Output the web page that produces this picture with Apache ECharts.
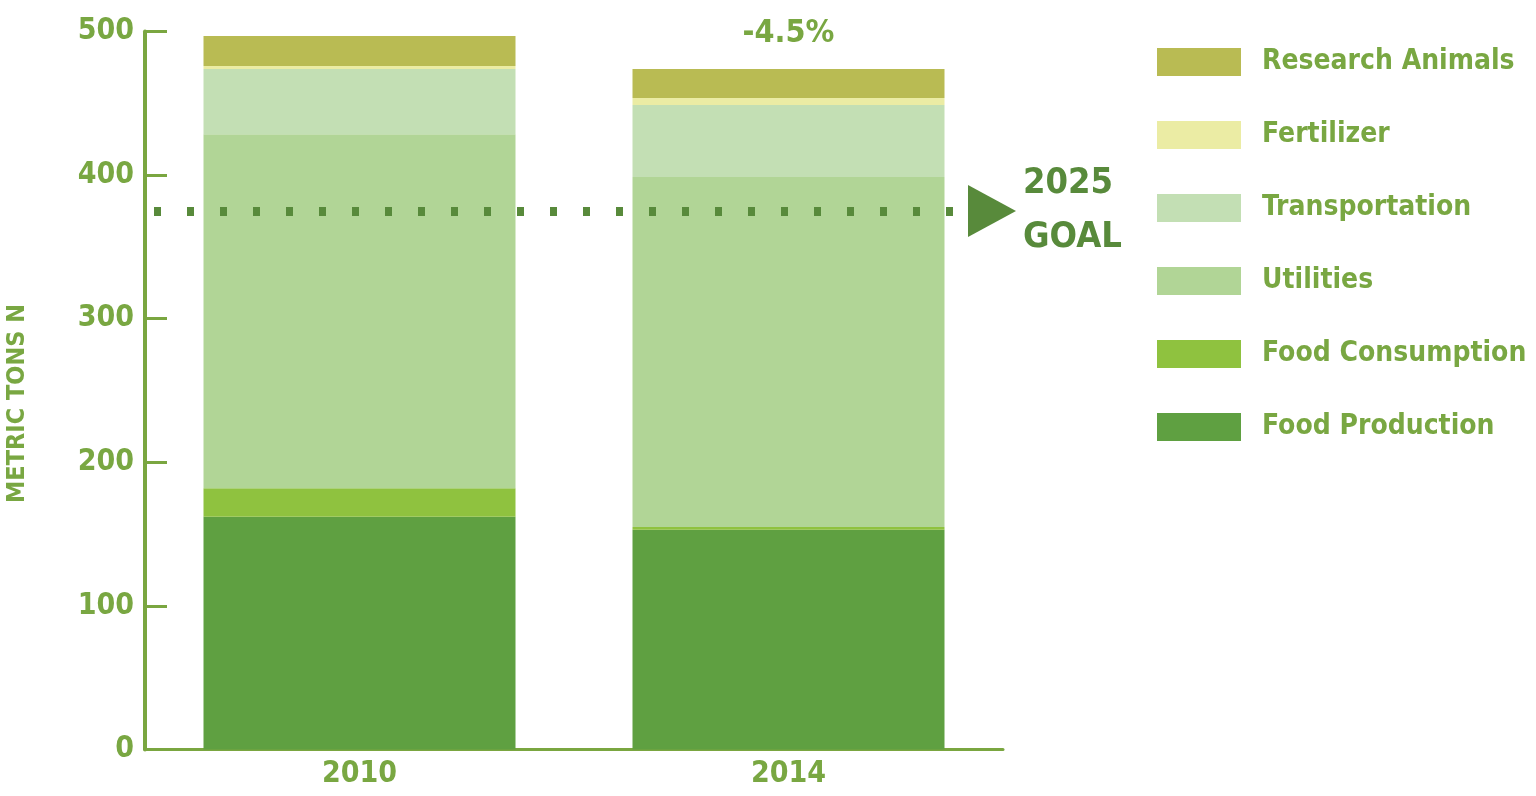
<!DOCTYPE html>
<html>
<head>
<meta charset="utf-8">
<script src="https://cdn.jsdelivr.net/npm/echarts@6/dist/echarts.min.js"></script>
<style>
  html, body { margin: 0; padding: 0; background: #ffffff; }
  #chart { width: 1536px; height: 796px; }
</style>
</head>
<body>
<div id="chart"></div>
<script>
  // values in metric tons N
  var years = ['2010', '2014'];
  var foodProduction = [162, 153];
  var foodConsumption = [20, 2];
  var utilities = [246.5, 243.7];
  var transportation = [45.3, 50.1];
  var fertilizer = [2.1, 4.9];
  var researchAnimals = [20.9, 20.2];
  var changeLabels = ['', '-4.5%'];
  var goalValue = 375;
  var goalText = '2025\nGOAL';

  var FONT = '"Liberation Sans Narrow", "DejaVu Sans Condensed", sans-serif';
  var TEXT_GREEN = '#79a742';
  var AXIS_GREEN = '#7aa640';
  var GOAL_GREEN = '#588a3b';

  var legendOrder = ['Research Animals', 'Fertilizer', 'Transportation', 'Utilities', 'Food Consumption', 'Food Production'];

  function bar(name, values, color) {
    return {
      name: name,
      type: 'bar',
      stack: 'total',
      barWidth: 312,
      itemStyle: { color: color },
      data: values
    };
  }

  var topSeries = bar('Research Animals', researchAnimals.map(function (v, i) {
    if (!changeLabels[i]) {
      return v;
    }
    return {
      value: v,
      label: {
        show: true,
        position: 'top',
        distance: 19,
        formatter: changeLabels[i],
        color: TEXT_GREEN,
        fontFamily: FONT,
        fontWeight: 'bold',
        fontSize: 32
      }
    };
  }), '#b9bb53');

  var baseSeries = bar('Food Production', foodProduction, '#5fa041');
  baseSeries.markLine = {
    silent: true,
    symbol: ['none', 'triangle'],
    symbolSize: [52, 48],
    symbolOffset: [[0, 0], [0, 11]],
    lineStyle: {
      color: GOAL_GREEN,
      width: 9,
      type: [7, 26],
      dashOffset: 24
    },
    itemStyle: { color: GOAL_GREEN },
    label: {
      show: true,
      position: 'end',
      distance: 20,
      formatter: goalText,
      color: GOAL_GREEN,
      fontFamily: FONT,
      fontWeight: 'bold',
      fontSize: 36,
      lineHeight: 54
    },
    data: [{ yAxis: goalValue }]
  };

  var chart = echarts.init(document.getElementById('chart'));
  chart.setOption({
    animation: false,
    backgroundColor: '#ffffff',
    grid: {
      left: 145,
      right: 533,
      top: 31.5,
      bottom: 46.5,
      outerBoundsMode: 'none',
      containLabel: false
    },
    legend: {
      orient: 'vertical',
      left: 1157,
      top: 48,
      padding: 0,
      itemWidth: 84,
      itemHeight: 28,
      itemGap: 45,
      icon: 'rect',
      selectedMode: false,
      data: legendOrder,
      textStyle: {
        color: TEXT_GREEN,
        fontFamily: FONT,
        fontWeight: 'bold',
        fontSize: 28,
        lineHeight: 28,
        padding: [0, 0, 0, 16]
      }
    },
    xAxis: {
      type: 'category',
      data: years,
      axisLine: { lineStyle: { color: AXIS_GREEN, width: 3 } },
      axisTick: { inside: true, length: 20, lineStyle: { color: AXIS_GREEN, width: 3 } },
      axisLabel: {
        color: TEXT_GREEN,
        fontFamily: FONT,
        fontWeight: 'bold',
        fontSize: 30,
        margin: 10
      }
    },
    yAxis: {
      type: 'value',
      min: 0,
      max: 500,
      interval: 100,
      name: 'METRIC TONS N',
      nameLocation: 'middle',
      nameGap: 115,
      nameRotate: 90,
      nameTextStyle: {
        color: TEXT_GREEN,
        fontFamily: FONT,
        fontWeight: 'bold',
        fontSize: 25,
        padding: [0, 26, 0, 0]
      },
      splitLine: { show: false },
      axisLine: { show: true, lineStyle: { color: AXIS_GREEN, width: 4 } },
      axisTick: { show: true, inside: true, length: 22, lineStyle: { color: AXIS_GREEN, width: 3 } },
      axisLabel: {
        color: TEXT_GREEN,
        fontFamily: FONT,
        fontWeight: 'bold',
        fontSize: 30,
        margin: 11
      }
    },
    series: [
      baseSeries,
      bar('Food Consumption', foodConsumption, '#8fc23f'),
      bar('Utilities', utilities, '#b1d596'),
      bar('Transportation', transportation, '#c3dfb4'),
      bar('Fertilizer', fertilizer, '#ebeca4'),
      topSeries
    ]
  });
</script>
</body>
</html>
